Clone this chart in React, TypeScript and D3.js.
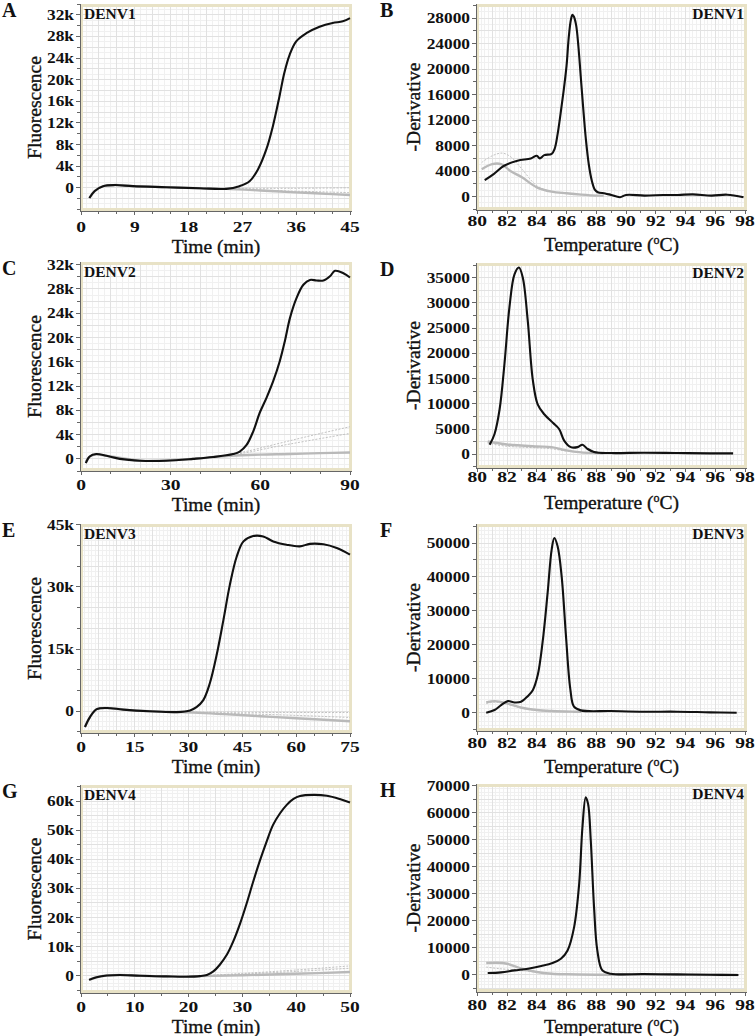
import * as d3 from "d3";
import { useEffect, useRef } from "react";

type Pt = [number, number];

// amplification curves (fluorescence in thousands vs minutes)
const denv1Amp: Pt[] = [[1.4, -1.9], [2.3, -0.6], [3.7, 0.3], [5.7, 0.5], [8.7, 0.3], [14.3, 0.1], [19.9, -0.1], [24.3, -0.2], [26.5, 0.3], [28.2, 1.2], [29.6, 3.4], [31, 7.1], [32.1, 11.4], [33.2, 16.9], [34, 21.2], [34.9, 24.6], [36, 27.1], [37.7, 28.6], [39.9, 29.8], [42.1, 30.5], [43.8, 30.8], [45, 31.4]];
const denv1AmpNeg: Pt[] = [[1.4, -1.9], [2.3, -0.6], [3.7, 0.3], [5.7, 0.5], [8.7, 0.3], [14.3, 0.1], [19.9, -0.1], [24.3, -0.2], [30, -0.5], [35, -0.8], [40, -1.05], [45, -1.35]];
const denv1AmpDot1: Pt[] = [[24, -0.1], [35, -0.1], [45, 0]];
const denv1AmpDot2: Pt[] = [[24, -0.2], [35, -0.6], [45, -0.9]];

const denv2Amp: Pt[] = [[1.6, -0.7], [2.9, 0.4], [5.1, 0.8], [8.5, 0.5], [13, 0], [19.7, -0.3], [28.6, -0.3], [37.5, 0], [44.2, 0.3], [50.9, 0.8], [53.1, 1.2], [55.4, 2.3], [57.6, 4.5], [59.8, 7.6], [62.1, 10.1], [64.3, 12.8], [66.5, 16.1], [68.2, 19.4], [69.9, 23.2], [72.1, 26.5], [74.4, 28.7], [76.6, 29.5], [78.8, 29.4], [81.1, 29.4], [83.3, 30.1], [85, 31], [87.8, 30.6], [90, 29.9]];
const denv2AmpNeg: Pt[] = [[1.6, -0.5], [3, 0.4], [5, 0.7], [10, 0.4], [20, -0.3], [30, -0.2], [40, 0.1], [50, 0.5], [60, 0.7], [70, 0.8], [80, 0.95], [90, 1.05]];
const denv2AmpDot1: Pt[] = [[45, 0.3], [55, 1.2], [65, 2.4], [75, 3.6], [90, 5.3]];
const denv2AmpDot2: Pt[] = [[45, 0.3], [55, 1.0], [65, 2.0], [75, 2.9], [90, 4.2]];

const denv3Amp: Pt[] = [[1.1, -3.8], [2.5, -1.4], [4.4, 0.5], [7.2, 0.8], [11.8, 0.4], [19.2, 0], [26.7, -0.2], [30.4, 0.2], [32.2, 1.0], [34.1, 2.7], [35.9, 6.7], [37.8, 13.5], [39.7, 22], [41.5, 30.5], [43.4, 37.3], [45.3, 41], [48, 42.3], [50.8, 42.2], [53.6, 41], [57.3, 40.2], [61, 39.8], [63.8, 40.4], [67.6, 40.3], [71.3, 39.4], [75, 37.8]];
const denv3AmpNeg: Pt[] = [[1.1, -3.8], [2.5, -1.4], [4.4, 0.5], [7.2, 0.8], [11.8, 0.4], [19.2, 0], [28, -0.2], [40, -0.7], [50, -1.2], [60, -1.7], [75, -2.4]];
const denv3AmpDot1: Pt[] = [[28, -0.2], [45, -0.25], [60, -0.3], [75, -0.3]];
const denv3AmpDot2: Pt[] = [[28, -0.2], [45, -0.6], [60, -1.0], [75, -1.5]];

const denv4Amp: Pt[] = [[1.5, -1.4], [2.9, -0.5], [4.8, 0.1], [7.2, 0.3], [11, 0], [15.9, -0.2], [19.6, -0.3], [22.1, -0.1], [23.4, 0.3], [24.6, 1.5], [25.8, 3.8], [27.1, 7.2], [28.3, 11.8], [29.6, 18.1], [30.8, 24.9], [32, 32.3], [33.3, 39.8], [34.5, 46.1], [35.7, 51.8], [37, 55.8], [38.2, 58.6], [39.5, 60.7], [40.7, 61.7], [43.2, 62.1], [45.7, 61.8], [48.1, 60.7], [50, 59.5]];
const denv4AmpNeg: Pt[] = [[1.5, -1.4], [2.9, -0.5], [4.8, 0.1], [7.2, 0.3], [11, 0], [15.9, -0.2], [22, -0.1], [30, 0.2], [40, 0.7], [50, 1.3]];
const denv4AmpDot1: Pt[] = [[22, 0], [30, 0.8], [40, 2.0], [50, 3.4]];
const denv4AmpDot2: Pt[] = [[22, 0], [30, 0.6], [40, 1.5], [50, 2.6]];

// melt curves (-dF/dT vs temperature)
const denv1Melt: Pt[] = [[80.5, 2600], [81.1, 3540], [81.8, 4840], [82.7, 5620], [83.6, 5980], [84.0, 6400], [84.2, 6000], [84.5, 6500], [85.0, 6700], [85.2, 7500], [85.4, 9800], [85.6, 13000], [85.8, 16500], [86.0, 20500], [86.15, 25000], [86.3, 27800], [86.4, 28500], [86.5, 28200], [86.65, 26800], [86.8, 23500], [86.95, 19000], [87.1, 14500], [87.3, 9000], [87.5, 5000], [87.7, 2500], [87.9, 1100], [88.1, 680], [88.6, 500], [89, 260], [89.6, -100], [90, 260], [91.25, 160], [92.5, 250], [93.5, 260], [94.5, 350], [95.75, 160], [96.8, 300], [97.9, -100]];
const denv1MeltNeg: Pt[] = [[80.3, 4300], [81, 5100], [81.6, 5100], [82.2, 4060], [83, 3020], [84, 1460], [85, 780], [86, 520], [87, 310], [88, 160], [88.5, 150]];
const denv1MeltDot: Pt[] = [[80.3, 5360], [81, 6400], [81.7, 6820], [82.3, 6140], [83, 4320], [84, 1720], [85, 780], [86, 500], [87, 300], [88, 150]];

const denv2Melt: Pt[] = [[80.83, 1890], [81.16, 4040], [81.5, 8930], [81.83, 18050], [82.16, 29130], [82.5, 35650], [82.8, 37000], [83.06, 35000], [83.39, 26530], [83.73, 14800], [84.06, 9910], [84.5, 7950], [85.1, 6200], [85.5, 5020], [85.84, 2740], [86.29, 1430], [86.74, 1430], [87.07, 1890], [87.4, 1110], [87.85, 460], [88.97, 260], [91.2, 330], [93.43, 260], [95.66, 200], [97.2, 200]];
const denv2MeltNeg: Pt[] = [[80.7, 2540], [82, 1960], [84, 1560], [85, 1430], [86, 780], [87, 390], [88, 260], [88.5, 200]];
const denv2MeltDot: Pt[] = [[80.7, 2200], [82, 1600], [84, 1300], [85, 1100], [86, 650], [87, 350], [88, 200]];

const denv3Melt: Pt[] = [[80.6, 0], [81.16, 780], [81.6, 2240], [82.05, 3410], [82.5, 3020], [82.94, 3220], [83.39, 4870], [83.73, 6630], [84.06, 11010], [84.39, 20760], [84.73, 35380], [85.0, 48050], [85.18, 51460], [85.4, 49020], [85.67, 40250], [85.96, 22710], [86.25, 7110], [86.5, 1750], [86.96, 680], [88.97, 490], [91.2, 290], [93.43, 290], [95.66, 100], [97.44, 0]];
const denv3MeltNeg: Pt[] = [[80.6, 3020], [81.2, 3410], [82, 2730], [83, 1460], [84, 780], [85, 490], [86.5, 290], [87, 250]];
const denv3MeltDot: Pt[] = [[80.6, 2700], [81.2, 3100], [82, 2500], [83, 1300], [84, 650], [85, 400], [86.5, 250]];

const denv4Melt: Pt[] = [[80.7, 620], [81.6, 860], [82.5, 1600], [83.4, 2220], [84.3, 3200], [85.06, 4310], [85.62, 5920], [86.07, 9000], [86.51, 17620], [86.85, 33650], [87.07, 54600], [87.29, 65690], [87.45, 63220], [87.63, 49670], [87.85, 25020], [88.07, 9000], [88.41, 1600], [88.97, 370], [91.2, 250], [93.43, 120], [95.66, 0], [97.56, -120]];
const denv4MeltNeg: Pt[] = [[80.6, 4310], [81.3, 4440], [82, 4070], [83, 2220], [84, 990], [85, 370], [86, 150], [88, 0], [92, -50], [97.5, -100]];
const denv4MeltDot: Pt[] = [[80.6, 2830], [81.5, 2220], [83, 1600], [84, 900], [85, 400], [86, 150]];

// tick labels
const ampTicksX1 = [0, 9, 18, 27, 36, 45];
const ampTicksX2 = [0, 30, 60, 90];
const ampTicksX3 = [0, 15, 30, 45, 60, 75];
const ampTicksX4 = [0, 10, 20, 30, 40, 50];
const ampTicksY1 = [0, 4, 8, 12, 16, 20, 24, 28, 32];
const ampTicksY3 = [0, 15, 30, 45];
const ampTicksY4 = [0, 10, 20, 30, 40, 50, 60];
const meltTicksX = [80, 82, 84, 86, 88, 90, 92, 94, 96, 98];
const meltTicksY1 = [0, 4000, 8000, 12000, 16000, 20000, 24000, 28000];
const meltTicksY2 = [0, 5000, 10000, 15000, 20000, 25000, 30000, 35000];
const meltTicksY3 = [0, 10000, 20000, 30000, 40000, 50000];
const meltTicksY4 = [0, 10000, 20000, 30000, 40000, 50000, 60000, 70000];

const serotypes = ["DENV1", "DENV2", "DENV3", "DENV4"];
const letters = ["A", "B", "C", "D", "E", "F", "G", "H"];

type Panel = {
  letter: string;
  name: string;
  kind: "amp" | "melt";
  left: number; right: number; top: number; bottom: number;
  xRange: [number, number];
  xDomain: [number, number];
  yDomain: [number, number];
  xTicks: number[]; yTicks: number[];
  xMinor: number; yMinor: number;
  xFine: number; yFine: number;
  labelY: number; titleY: number;
  main: Pt[]; neg: Pt[]; dots: Pt[][];
};

const FONT = "'Liberation Serif', 'Times New Roman', serif";
const AMP_X: [number, number] = [81, 350];
const MELT_X: [number, number] = [477.3, 745];

const panels: Panel[] = [
  { letter: letters[0], name: serotypes[0], kind: "amp", left: 80, right: 352, top: 4, bottom: 211, xRange: AMP_X, xDomain: [0, 45], yDomain: [-4.3, 34], xTicks: ampTicksX1, yTicks: ampTicksY1, xMinor: 3, yMinor: 2, xFine: 1, yFine: 1, labelY: 232, titleY: 253, main: denv1Amp, neg: denv1AmpNeg, dots: [denv1AmpDot1, denv1AmpDot2] },
  { letter: letters[1], name: serotypes[0], kind: "melt", left: 476, right: 747, top: 4, bottom: 210, xRange: MELT_X, xDomain: [80, 98], yDomain: [-2100, 30200], xTicks: meltTicksX, yTicks: meltTicksY1, xMinor: 1, yMinor: 2000, xFine: 0.25, yFine: 1000, labelY: 226, titleY: 251, main: denv1Melt, neg: denv1MeltNeg, dots: [denv1MeltDot] },
  { letter: letters[2], name: serotypes[1], kind: "amp", left: 80, right: 352, top: 262, bottom: 471, xRange: AMP_X, xDomain: [0, 90], yDomain: [-2, 32.45], xTicks: ampTicksX2, yTicks: ampTicksY1, xMinor: 10, yMinor: 2, xFine: 2, yFine: 1, labelY: 490, titleY: 511, main: denv2Amp, neg: denv2AmpNeg, dots: [denv2AmpDot1, denv2AmpDot2] },
  { letter: letters[3], name: serotypes[1], kind: "melt", left: 476, right: 747, top: 263, bottom: 468, xRange: MELT_X, xDomain: [80, 98], yDomain: [-2700, 37900], xTicks: meltTicksX, yTicks: meltTicksY2, xMinor: 1, yMinor: 2500, xFine: 0.25, yFine: 1250, labelY: 482, titleY: 509, main: denv2Melt, neg: denv2MeltNeg, dots: [denv2MeltDot] },
  { letter: letters[4], name: serotypes[2], kind: "amp", left: 80, right: 352, top: 524, bottom: 733, xRange: AMP_X, xDomain: [0, 75], yDomain: [-5.25, 45.2], xTicks: ampTicksX3, yTicks: ampTicksY3, xMinor: 5, yMinor: 5, xFine: 1, yFine: 1.25, labelY: 752, titleY: 773, main: denv3Amp, neg: denv3AmpNeg, dots: [denv3AmpDot1, denv3AmpDot2] },
  { letter: letters[5], name: serotypes[2], kind: "melt", left: 476, right: 747, top: 524, bottom: 731, xRange: MELT_X, xDomain: [80, 98], yDomain: [-5400, 55600], xTicks: meltTicksX, yTicks: meltTicksY3, xMinor: 1, yMinor: 5000, xFine: 0.25, yFine: 1250, labelY: 748, titleY: 773, main: denv3Melt, neg: denv3MeltNeg, dots: [denv3MeltDot] },
  { letter: letters[6], name: serotypes[3], kind: "amp", left: 80, right: 352, top: 785, bottom: 993, xRange: AMP_X, xDomain: [0, 50], yDomain: [-5.9, 65.5], xTicks: ampTicksX4, yTicks: ampTicksY4, xMinor: 5, yMinor: 5, xFine: 1, yFine: 1.25, labelY: 1012, titleY: 1033, main: denv4Amp, neg: denv4AmpNeg, dots: [denv4AmpDot1, denv4AmpDot2] },
  { letter: letters[7], name: serotypes[3], kind: "melt", left: 476, right: 747, top: 784, bottom: 992, xRange: MELT_X, xDomain: [80, 98], yDomain: [-6400, 70600], xTicks: meltTicksX, yTicks: meltTicksY4, xMinor: 1, yMinor: 5000, xFine: 0.25, yFine: 1250, labelY: 1010, titleY: 1033, main: denv4Melt, neg: denv4MeltNeg, dots: [denv4MeltDot] },
];

// multiples of step inside [lo, hi]
function steps(lo: number, hi: number, step: number) {
  const out: number[] = [];
  const start = Math.ceil(lo / step - 1e-9);
  const end = Math.floor(hi / step + 1e-9);
  for (let i = start; i <= end; i++) out.push(+(i * step).toFixed(6));
  return out;
}

function drawPanel(svg: d3.Selection<SVGSVGElement, unknown, null, undefined>, p: Panel) {
  const x = d3.scaleLinear().domain(p.xDomain).range(p.xRange);
  const y = d3.scaleLinear().domain(p.yDomain).range([p.bottom, p.top]);
  const g = svg.append("g");
  const xMax = x.invert(p.right);
  const xMin = x.invert(p.left);

  g.append("rect")
    .attr("x", p.left).attr("y", p.top)
    .attr("width", p.right - p.left).attr("height", p.bottom - p.top)
    .attr("fill", "#fefefe");

  // fine grid then slightly heavier grid at minor tick positions
  const grid = g.append("g").attr("shape-rendering", "crispEdges");
  steps(xMin, xMax, p.xFine).forEach((v) => {
    grid.append("line").attr("x1", x(v)).attr("x2", x(v)).attr("y1", p.top).attr("y2", p.bottom)
      .attr("stroke", "#f0f0f0").attr("stroke-width", 1);
  });
  steps(p.yDomain[0], p.yDomain[1], p.yFine).forEach((v) => {
    grid.append("line").attr("y1", y(v)).attr("y2", y(v)).attr("x1", p.left).attr("x2", p.right)
      .attr("stroke", "#f0f0f0").attr("stroke-width", 1);
  });
  steps(xMin, xMax, p.xMinor).forEach((v) => {
    grid.append("line").attr("x1", x(v)).attr("x2", x(v)).attr("y1", p.top).attr("y2", p.bottom)
      .attr("stroke", "#e1e1e1").attr("stroke-width", 1);
  });
  steps(p.yDomain[0], p.yDomain[1], p.yMinor).forEach((v) => {
    grid.append("line").attr("y1", y(v)).attr("y2", y(v)).attr("x1", p.left).attr("x2", p.right)
      .attr("stroke", "#e1e1e1").attr("stroke-width", 1);
  });

  // beige frame
  g.append("rect")
    .attr("x", p.left + 1.5).attr("y", p.top + 1.5)
    .attr("width", p.right - p.left - 3).attr("height", p.bottom - p.top - 3)
    .attr("fill", "none").attr("stroke", "#e8e2c6").attr("stroke-width", 3);

  // axes with ticks
  const axis = g.append("g").attr("stroke", "#666").attr("shape-rendering", "crispEdges");
  axis.append("line").attr("x1", p.left).attr("x2", p.left).attr("y1", p.top).attr("y2", p.bottom);
  axis.append("line").attr("x1", p.left).attr("x2", p.right).attr("y1", p.bottom).attr("y2", p.bottom);
  steps(p.yDomain[0], p.yDomain[1], p.yMinor).forEach((v) => {
    const major = p.yTicks.includes(v);
    axis.append("line").attr("x1", p.left - (major ? 4 : 3)).attr("x2", p.left).attr("y1", y(v)).attr("y2", y(v));
  });
  steps(p.xDomain[0], p.xDomain[1], p.xMinor).forEach((v) => {
    const major = p.xTicks.includes(v);
    axis.append("line").attr("y1", p.bottom).attr("y2", p.bottom + (major ? 4 : 3)).attr("x1", x(v)).attr("x2", x(v));
  });

  // curves
  const line = d3.line<Pt>().x((d) => x(d[0])).y((d) => y(d[1])).curve(d3.curveCatmullRom.alpha(0.5));
  p.dots.forEach((d) => {
    g.append("path").attr("d", line(d)).attr("fill", "none")
      .attr("stroke", "#c2c2c2").attr("stroke-width", 1).attr("stroke-dasharray", "2,1.5");
  });
  g.append("path").attr("d", line(p.neg)).attr("fill", "none")
    .attr("stroke", "#b9b9b9").attr("stroke-width", 2.4).attr("stroke-linejoin", "round");
  g.append("path").attr("d", line(p.main)).attr("fill", "none")
    .attr("stroke", "#111").attr("stroke-width", 2.1).attr("stroke-linejoin", "round");

  // tick labels (the original lettering is horizontally stretched)
  const fmt = (v: number) => (p.kind === "amp" ? (v === 0 ? "0" : `${v}k`) : String(v));
  p.yTicks.forEach((v) => {
    g.append("text")
      .attr("transform", `translate(${p.left - 6},${y(v) + 5}) scale(1.24,1)`)
      .attr("text-anchor", "end").attr("font-family", FONT).attr("font-weight", "bold")
      .attr("font-size", 14).attr("fill", "#111").text(fmt(v));
  });
  p.xTicks.forEach((v) => {
    g.append("text")
      .attr("transform", `translate(${x(v)},${p.labelY}) scale(1.3,1)`)
      .attr("text-anchor", "middle").attr("font-family", FONT).attr("font-weight", "bold")
      .attr("font-size", 15).attr("fill", "#111").text(String(v));
  });

  // titles
  const cx = (p.left + p.right) / 2;
  const xt = g.append("text").attr("x", cx).attr("y", p.titleY).attr("text-anchor", "middle")
    .attr("font-family", FONT).attr("font-size", 19.5).attr("fill", "#111")
    .attr("stroke", "#111").attr("stroke-width", 0.35);
  if (p.kind === "amp") {
    xt.text("Time (min)");
  } else {
    xt.append("tspan").text("Temperature (");
    xt.append("tspan").attr("font-size", 12).attr("dy", -7).text("o");
    xt.append("tspan").attr("dy", 7).text("C)");
  }
  const ytX = p.kind === "amp" ? p.left - 46 : p.left - 63;
  g.append("text")
    .attr("transform", `translate(${ytX},${(p.top + p.bottom) / 2}) rotate(-90)`)
    .attr("dy", "0.35em").attr("text-anchor", "middle")
    .attr("font-family", FONT).attr("font-size", 19.5).attr("fill", "#111")
    .attr("stroke", "#111").attr("stroke-width", 0.35)
    .text(p.kind === "amp" ? "Fluorescence" : "-Derivative");

  // panel letter and serotype tag
  g.append("text").attr("x", p.kind === "amp" ? 2 : 380).attr("y", p.top + 13)
    .attr("font-family", FONT).attr("font-weight", "bold").attr("font-size", 20).attr("fill", "#111")
    .text(p.letter);
  g.append("text")
    .attr("x", p.kind === "amp" ? p.left + 4 : p.right - 3).attr("y", p.top + 15)
    .attr("text-anchor", p.kind === "amp" ? "start" : "end")
    .attr("font-family", FONT).attr("font-weight", "bold").attr("font-size", 15.5).attr("fill", "#111")
    .text(p.name);
}

export default function App() {
  const ref = useRef<SVGSVGElement>(null);

  useEffect(() => {
    document.body.style.margin = "0";
    const svg = d3.select(ref.current!);
    svg.selectAll("*").remove();
    panels.forEach((p) => drawPanel(svg, p));
  }, []);

  return (
    <svg ref={ref} width={756} height={1036} viewBox="0 0 756 1036"
      style={{ display: "block", background: "#fff" }} />
  );
}
